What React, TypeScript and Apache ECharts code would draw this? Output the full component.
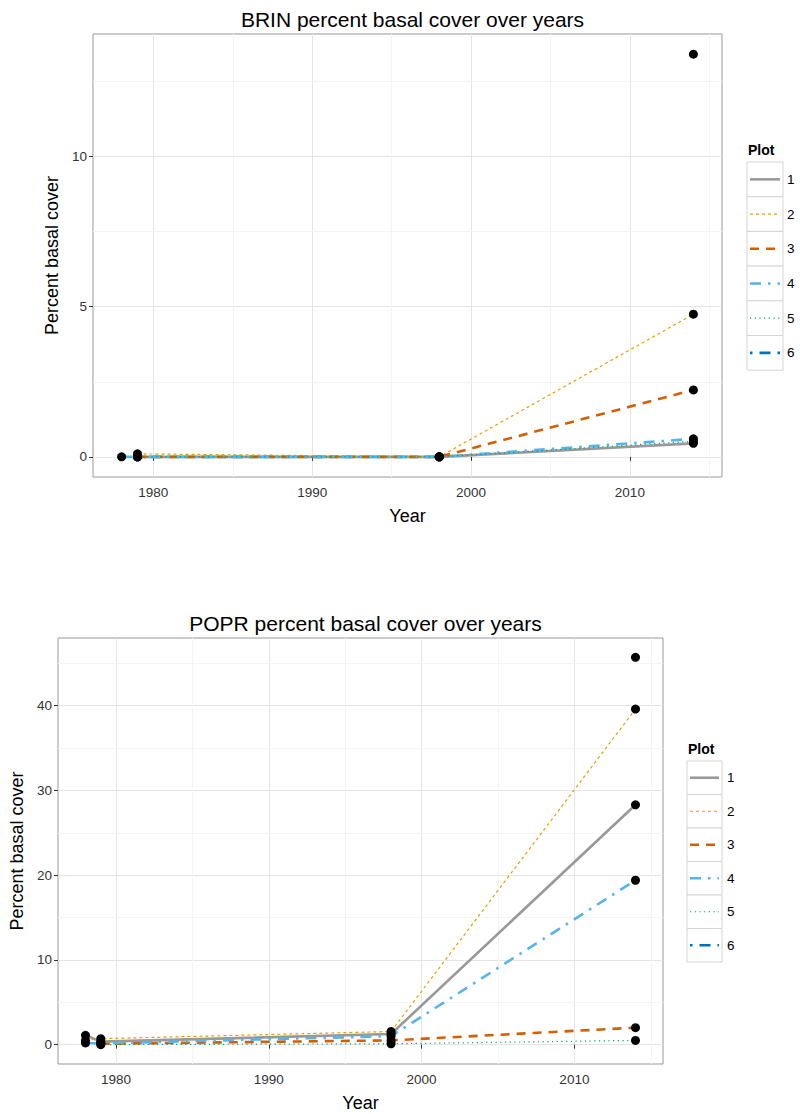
import React, { useEffect, useRef } from "react";
import * as echarts from "echarts";

const FONT = '"Liberation Sans", Arial, sans-serif';

// Survey years shared by both species
const years = [1978, 1979, 1998, 2014];
const yearTicks = [1980, 1990, 2000, 2010];
const yearMinor = [1985, 1995, 2005, 2015];

// Plot identifiers and their styling
const plots = ["1", "2", "3", "4", "5", "6"];
const plotColors = ["#999999", "#E69F00", "#D55E00", "#56B4E9", "#009E73", "#0072B2"];
const plotWidths = [2.6, 1.2, 2.6, 2.6, 1.2, 2.6];
const plotDashes: (number[] | null)[] = [null, [3, 3], [9, 7], [11, 7, 2.5, 7], [1.2, 3.5], [2.5, 7, 11, 7]];

// BRIN percent basal cover per plot (null = not surveyed)
const brinPlot1 = [null, 0, 0, 0.45];
const brinPlot2 = [null, 0.1, 0, 4.75];
const brinPlot3 = [null, 0, 0, 2.23];
const brinPlot4 = [0, 0, 0, 0.6];
const brinPlot5 = [null, 0, 0, 0.52];
const brinPlot6 = [null, null, null, 13.41];
const brinTicks = [0, 5, 10];
const brinMinor = [2.5, 7.5, 12.5];

// POPR percent basal cover per plot
const poprPlot1 = [1.1, 0.35, 1.25, 28.3];
const poprPlot2 = [0.5, 0.7, 1.55, 39.6];
const poprPlot3 = [null, 0.1, 0.5, 2.0];
const poprPlot4 = [0.2, 0.15, 1.0, 19.4];
const poprPlot5 = [null, 0, 0.1, 0.5];
const poprPlot6 = [null, null, null, 45.7];
const poprTicks = [0, 10, 20, 30, 40];
const poprMinor = [5, 15, 25, 35, 45];

const brinSeries = [brinPlot1, brinPlot2, brinPlot3, brinPlot4, brinPlot5, brinPlot6];
const poprSeries = [poprPlot1, poprPlot2, poprPlot3, poprPlot4, poprPlot5, poprPlot6];

type Panel = {
  title: string;
  values: (number | null)[][];
  yTicks: number[];
  yMinor: number[];
  grid: { left: number; top: number; width: number; height: number };
  legend: { x: number; titleY: number; y0: number; w: number; h: number; labelX: number };
};

const panels: Panel[] = [
  {
    title: "BRIN percent basal cover over years",
    values: brinSeries,
    yTicks: brinTicks,
    yMinor: brinMinor,
    grid: { left: 93, top: 34, width: 629, height: 443 },
    legend: { x: 747, titleY: 150, y0: 162, w: 36, h: 34.7, labelX: 787 },
  },
  {
    title: "POPR percent basal cover over years",
    values: poprSeries,
    yTicks: poprTicks,
    yMinor: poprMinor,
    grid: { left: 58, top: 638, width: 605, height: 426 },
    legend: { x: 687, titleY: 749, y0: 761, w: 35, h: 33.5, labelX: 727 },
  },
];

function pairs(vals: (number | null)[]) {
  const out: number[][] = [];
  vals.forEach((v, i) => {
    if (v !== null) out.push([years[i], v]);
  });
  return out;
}

// ggplot-style 5% expansion of a data range
function expand(lo: number, hi: number) {
  const pad = (hi - lo) * 0.05;
  return [lo - pad, hi + pad];
}

function buildOption() {
  const grids: any[] = [];
  const xAxes: any[] = [];
  const yAxes: any[] = [];
  const series: any[] = [];
  const titles: any[] = [];
  const graphic: any[] = [];

  const [xMin, xMax] = expand(years[0], years[years.length - 1]);

  panels.forEach((p, gi) => {
    const all = p.values.flat().filter((v) => v !== null) as number[];
    const [yMin, yMax] = expand(Math.min(...all), Math.max(...all));

    grids.push({
      ...p.grid,
      show: true,
      borderColor: "#999999",
      borderWidth: 1,
      backgroundColor: "#ffffff",
    });

    titles.push({
      text: p.title,
      left: p.grid.left + p.grid.width / 2,
      top: p.grid.top - 30,
      textAlign: "center",
      textStyle: { fontSize: 21, fontWeight: "normal", color: "#000", fontFamily: FONT },
    });

    xAxes.push({
      type: "value",
      gridIndex: gi,
      min: xMin,
      max: xMax,
      splitNumber: 5,
      name: "Year",
      nameLocation: "middle",
      nameGap: 30,
      nameTextStyle: { fontSize: 18, color: "#000", fontFamily: FONT },
      axisLine: { show: false },
      axisTick: { show: true, length: 4, customValues: yearTicks, lineStyle: { color: "#333" } },
      axisLabel: {
        customValues: yearTicks,
        formatter: (v: number) => String(v),
        fontSize: 13.5,
        color: "#333",
        margin: 8,
        fontFamily: FONT,
      },
      splitLine: { show: true, customValues: yearTicks, lineStyle: { color: "#e5e5e5", width: 1 } },
    });

    yAxes.push({
      type: "value",
      gridIndex: gi,
      min: yMin,
      max: yMax,
      splitNumber: gi === 0 ? 3 : 5,
      name: "Percent basal cover",
      nameLocation: "middle",
      nameGap: 32,
      nameTextStyle: { fontSize: 18, color: "#000", fontFamily: FONT },
      axisLine: { show: false },
      axisTick: { show: true, length: 4, customValues: p.yTicks, lineStyle: { color: "#333" } },
      axisLabel: {
        customValues: p.yTicks,
        formatter: (v: number) => String(v),
        fontSize: 13.5,
        color: "#333",
        margin: 6,
        fontFamily: FONT,
      },
      splitLine: { show: true, customValues: p.yTicks, lineStyle: { color: "#e5e5e5", width: 1 } },
    });

    p.values.forEach((vals, i) => {
      series.push({
        type: "line",
        name: plots[i],
        xAxisIndex: gi,
        yAxisIndex: gi,
        data: pairs(vals),
        showSymbol: false,
        symbol: "none",
        z: 2,
        lineStyle: {
          color: plotColors[i],
          width: plotWidths[i],
          type: plotDashes[i] ?? "solid",
          cap: "butt",
        },
        silent: true,
      });
    });

    // observed values as black points, with the faint minor grid
    series.push({
      type: "scatter",
      xAxisIndex: gi,
      yAxisIndex: gi,
      data: p.values.flatMap((vals) => pairs(vals)),
      symbolSize: 9,
      itemStyle: { color: "#000000", opacity: 1 },
      z: 4,
      silent: true,
      markLine: {
        z: 1,
        silent: true,
        symbol: "none",
        label: { show: false },
        lineStyle: { color: "#f4f4f4", width: 1, type: "solid" },
        data: [
          ...yearMinor.filter((v) => v < xMax).map((v) => ({ xAxis: v })),
          ...p.yMinor.filter((v) => v < yMax).map((v) => ({ yAxis: v })),
        ],
      },
    });

    // legend: title, keyed boxes with line samples, labels
    const L = p.legend;
    graphic.push({
      type: "text",
      x: L.x + 1,
      y: L.titleY,
      style: { text: "Plot", fontSize: 14, fontWeight: "bold", fontFamily: FONT, fill: "#000", align: "left", verticalAlign: "middle" },
    });
    plots.forEach((name, i) => {
      const top = L.y0 + i * L.h;
      const cy = top + L.h / 2;
      graphic.push({
        type: "rect",
        shape: { x: L.x, y: top, width: L.w, height: L.h },
        style: { fill: "#ffffff", stroke: "#d4d4d4", lineWidth: 1 },
      });
      graphic.push({
        type: "line",
        shape: { x1: L.x + 3, y1: cy, x2: L.x + L.w - 3, y2: cy },
        style: {
          stroke: plotColors[i],
          lineWidth: plotWidths[i],
          lineDash: plotDashes[i] ?? undefined,
        },
        z: 10,
      });
      graphic.push({
        type: "text",
        x: L.labelX,
        y: cy,
        style: { text: name, fontSize: 13.5, fontFamily: FONT, fill: "#000", align: "left", verticalAlign: "middle" },
      });
    });
  });

  return {
    animation: false,
    backgroundColor: "#ffffff",
    title: titles,
    grid: grids,
    xAxis: xAxes,
    yAxis: yAxes,
    series,
    graphic,
  };
}

export default function App() {
  const ref = useRef<HTMLDivElement>(null);

  useEffect(() => {
    if (!ref.current) return;
    const chart = echarts.init(ref.current, null, { renderer: "svg" });
    chart.setOption(buildOption() as any);
    return () => chart.dispose();
  }, []);

  return (
    <div
      ref={ref}
      style={{ position: "absolute", left: 0, top: 0, width: 800, height: 1114 }}
    />
  );
}
